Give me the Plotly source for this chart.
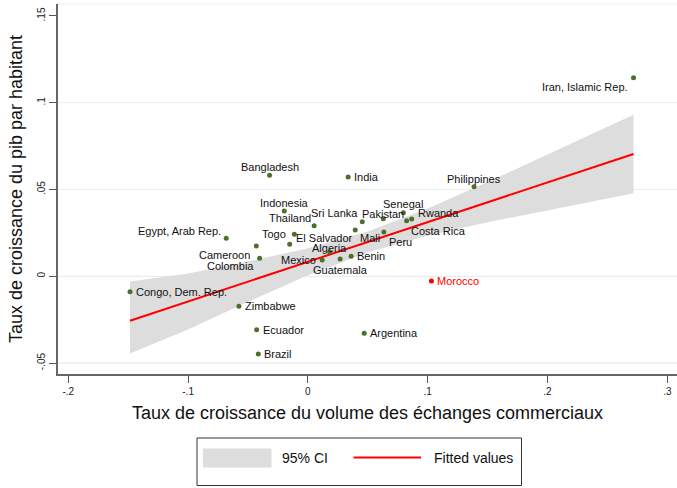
import plotly.graph_objects as go

# Countries: trade-volume growth (x) vs GDP per capita growth (y)
countries = [
    "Iran, Islamic Rep.", "India", "Philippines", "Bangladesh", "Indonesia",
    "Egypt, Arab Rep.", "Cameroon", "Colombia", "Congo, Dem. Rep.", "Zimbabwe",
    "Ecuador", "Brazil", "Togo", "El Salvador", "Thailand", "Mexico", "Algeria",
    "Guatemala", "Benin", "Mali", "Sri Lanka", "Pakistan", "Peru", "Senegal",
    "Costa Rica", "Rwanda", "Morocco", "Argentina",
]
trade_growth = [
    0.2718, 0.0336, 0.1387, -0.0320, -0.0197,
    -0.0682, -0.0431, -0.0403, -0.1485, -0.0576,
    -0.0428, -0.0414, -0.0113, -0.0152, 0.0052, 0.0119, 0.0182,
    0.0269, 0.0361, 0.0395, 0.0454, 0.0629, 0.0634, 0.0797,
    0.0824, 0.0866, 0.1031, 0.0470,
]
gdp_pc_growth = [
    0.1144, 0.0572, 0.0516, 0.0582, 0.0376,
    0.0219, 0.0175, 0.0104, -0.0089, -0.0173,
    -0.0308, -0.0448, 0.0242, 0.0184, 0.0291, 0.0094, 0.0140,
    0.0100, 0.0115, 0.0267, 0.0315, 0.0332, 0.0255, 0.0366,
    0.0320, 0.0330, -0.0027, -0.0328,
]

# Fitted values and 95% confidence band
fit_x = [-0.1485, -0.10, -0.05, 0.0, 0.05, 0.10, 0.15, 0.20, 0.2718]
fit_y = [-0.0256, -0.0145, -0.0031, 0.0084, 0.0198, 0.0312, 0.0427, 0.0541, 0.0705]
ci_lo = [-0.0445, -0.0306, -0.0147, 0.0006, 0.0138, 0.0234, 0.0311, 0.0380, 0.0479]
ci_hi = [-0.0030, 0.0016, 0.0085, 0.0162, 0.0258, 0.0390, 0.0543, 0.0702, 0.0931]

x_ticks = [-0.2, -0.1, 0.0, 0.1, 0.2, 0.3]
x_ticklabels = ["-.2", "-.1", "0", ".1", ".2", ".3"]
y_ticks = [-0.05, 0.0, 0.05, 0.1, 0.15]
y_ticklabels = ["-.05", "0", ".05", ".1", ".15"]
y_gridlines = [-0.05, 0.0, 0.05, 0.1]

highlight = "Morocco"
GREEN = "#4e6f2a"
RED = "#ff0000"
BAND = "#dddddd"
FONT = "Liberation Sans, Arial, sans-serif"

# label placement per country: (anchor, x shift px, y shift px)
label_pos = {
    "Iran, Islamic Rep.": ("right", -4, -9),
    "India": ("left", 4, 0),
    "Philippines": ("center", 0, 8),
    "Bangladesh": ("center", 0, 8),
    "Indonesia": ("center", 0, 8),
    "Egypt, Arab Rep.": ("right", -3, 7),
    "Cameroon": ("right", -4, -9),
    "Colombia": ("right", -4, -8),
    "Congo, Dem. Rep.": ("left", 4, 0),
    "Zimbabwe": ("left", 4, 0),
    "Ecuador": ("left", 4, 0),
    "Brazil": ("left", 4, 0),
    "Togo": ("right", -6, 0),
    "El Salvador": ("left", 4, 6),
    "Thailand": ("right", -1, 8),
    "Mexico": ("right", -4, 0),
    "Algeria": ("center", 0, 4),
    "Guatemala": ("center", 0, -11),
    "Benin": ("left", 4, 0),
    "Mali": ("left", 3, -8),
    "Sri Lanka": ("right", -2, 9),
    "Pakistan": ("center", 0, 5),
    "Peru": ("left", 3, -10),
    "Senegal": ("center", 0, 9),
    "Costa Rica": ("left", 2, -10),
    "Rwanda": ("left", 4, 6),
    "Morocco": ("left", 4, 0),
    "Argentina": ("left", 4, 0),
}

# plot-area geometry in pixels, used to place the hand-drawn legend
W, H = 677, 488
ML, MR, MT, MB = 58, 0, 4, 114
PW, PH = W - ML - MR, H - MT - MB


def px_to_paper(px, py):
    return (px - ML) / PW, (H - MB - py) / PH


fig = go.Figure()

# confidence band
fig.add_trace(go.Scatter(
    x=fit_x + fit_x[::-1], y=ci_hi + ci_lo[::-1],
    fill="toself", fillcolor=BAND, line=dict(width=0), mode="lines",
    hoverinfo="skip", showlegend=False,
))
# fitted line
fig.add_trace(go.Scatter(
    x=fit_x, y=fit_y, mode="lines", line=dict(color=RED, width=2),
    showlegend=False,
))
# country points
colors = [RED if c == highlight else GREEN for c in countries]
fig.add_trace(go.Scatter(
    x=trade_growth, y=gdp_pc_growth, mode="markers", text=countries,
    marker=dict(color=colors, size=5), showlegend=False,
))

annotations = []
for name, xv, yv in zip(countries, trade_growth, gdp_pc_growth):
    anchor, dx, dy = label_pos[name]
    annotations.append(dict(
        x=xv, y=yv, xref="x", yref="y", text=name, showarrow=False,
        xanchor=anchor, yanchor="middle", xshift=dx, yshift=dy,
        font=dict(family=FONT, size=11, color=RED if name == highlight else "#111111"),
    ))

shapes = []
for g in y_gridlines:
    shapes.append(dict(type="line", xref="paper", yref="y", x0=0, x1=1, y0=g, y1=g,
                       line=dict(color="#e6eef1", width=1.2), layer="below"))
# faint top border of the plot region
shapes.append(dict(type="line", xref="paper", yref="paper", x0=0, x1=1, y0=1, y1=1,
                   line=dict(color="#eef1f2", width=1.2), layer="below"))

# legend box
bx0, by0 = px_to_paper(197, 438)
bx1, by1 = px_to_paper(521.5, 485.5)
shapes.append(dict(type="rect", xref="paper", yref="paper", x0=bx0, x1=bx1, y0=by1, y1=by0,
                   line=dict(color="#333333", width=1), fillcolor="white"))
sx0, sy0 = px_to_paper(203, 448.5)
sx1, sy1 = px_to_paper(271.5, 467.5)
shapes.append(dict(type="rect", xref="paper", yref="paper", x0=sx0, x1=sx1, y0=sy1, y1=sy0,
                   line=dict(width=0), fillcolor=BAND))
lx0, ly = px_to_paper(353.5, 457.5)
lx1, _ = px_to_paper(421, 457.5)
shapes.append(dict(type="line", xref="paper", yref="paper", x0=lx0, x1=lx1, y0=ly, y1=ly,
                   line=dict(color=RED, width=2)))
tx, ty = px_to_paper(280, 457.5)
annotations.append(dict(x=tx, y=ty, xref="paper", yref="paper", text="95% CI",
                        showarrow=False, xanchor="left", yanchor="middle",
                        font=dict(family=FONT, size=14, color="#111111")))
tx2, _ = px_to_paper(431.5, 457.5)
annotations.append(dict(x=tx2, y=ty, xref="paper", yref="paper", text="Fitted values",
                        showarrow=False, xanchor="left", yanchor="middle",
                        font=dict(family=FONT, size=14, color="#111111")))

fig.update_layout(
    width=W, height=H, autosize=False,
    margin=dict(l=ML, r=MR, t=MT, b=MB, pad=0),
    paper_bgcolor="white", plot_bgcolor="white",
    font=dict(family=FONT, color="#111111"),
    shapes=shapes, annotations=annotations,
    showlegend=False,
    xaxis=dict(
        range=[-0.2086, 0.3081], tickvals=x_ticks, ticktext=x_ticklabels,
        ticks="outside", ticklen=7, tickwidth=1, tickcolor="#555555",
        showline=True, linecolor="#666666", linewidth=1.5,
        showgrid=False, zeroline=False, tickfont=dict(size=10, color="#222222"),
        title=dict(text="Taux de croissance du volume des échanges commerciaux",
                   font=dict(size=18, color="#111111"), standoff=11),
    ),
    yaxis=dict(
        range=[-0.0563, 0.1569], tickvals=y_ticks, ticktext=y_ticklabels,
        tickangle=-90, ticks="outside", ticklen=7, tickwidth=1, tickcolor="#555555",
        showline=True, linecolor="#666666", linewidth=1.5,
        showgrid=False, zeroline=False, tickfont=dict(size=10, color="#222222"),
        title=dict(text="Taux de croissance du pib par habitant",
                   font=dict(size=18, color="#111111"), standoff=9),
    ),
)

fig.write_html("out.html")
